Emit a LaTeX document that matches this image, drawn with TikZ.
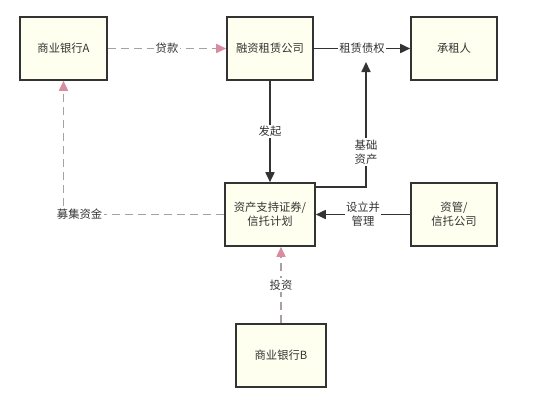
\documentclass[tikz,border=0pt]{standalone}
\usepackage{fontspec}
\setmainfont{Noto Sans CJK SC}
\usetikzlibrary{arrows.meta}
\definecolor{boxfill}{HTML}{FFFFF0}
\definecolor{boxline}{HTML}{333333}
\definecolor{dashc}{HTML}{A8A0A4}
\definecolor{pinkc}{HTML}{D98BA0}
\definecolor{txt}{HTML}{333333}
\begin{document}
\begin{tikzpicture}[x=1pt,y=-1pt, font=\fontsize{11.3}{14}\selectfont, text=txt,
 box/.style={draw=boxline, fill=boxfill, line width=1.6pt, minimum width=86pt, minimum height=63pt, align=center, inner sep=0pt},
 solidline/.style={draw=boxline, line width=1.7pt, -{Triangle[length=10pt,width=9pt]}},
 dashline/.style={draw=dashc, line width=1.7pt, dash pattern=on 8pt off 5pt, -{Triangle[length=10pt,width=9pt,color=pinkc]}},
 lbl/.style={fill=white, inner sep=1.5pt, align=center}]
\useasboundingbox[fill=white] (0,0) rectangle (544,407);
\node[box, minimum width=87pt] (a) at (63.5,48.5) {商业银行A};
\node[box] (lease) at (270,48.5) {融资租赁公司};
\node[box] (lessee) at (454,48.5) {承租人};
\node[box, minimum width=90pt] (abs) at (270,214.5) {资产支持证券/\\信托计划};
\node[box] (trust) at (454,214.5) {资管/\\信托公司};
\node[box, minimum width=90pt] (b) at (281,355.5) {商业银行B};
\coordinate (tip) at (366,62);
\draw[dashline] (a) -- node[lbl]{贷款} (lease);
\draw[solidline] (lease) -- node[lbl]{租赁债权} (lessee);
\draw[solidline] (lease) -- node[lbl]{发起} (abs);
\draw[solidline] ([yshift=-5pt]abs.north east) -| node[lbl, pos=0.64]{基础\\资产} (tip);
\draw[solidline] (trust) -- node[lbl]{设立并\\管理} (abs);
\draw[dashline] (abs.west) -| node[lbl, pos=0.45]{募集资金} (a.south);
\draw[dashline] (b.north) -- node[lbl]{投资} (b.north |- abs.south);
\end{tikzpicture}
\end{document}
